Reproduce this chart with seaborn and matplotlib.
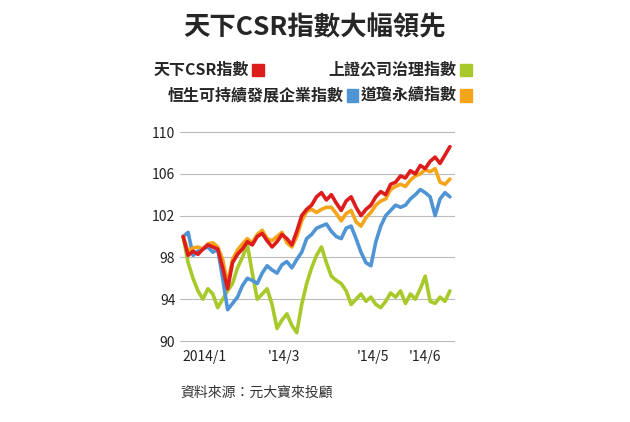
import matplotlib
matplotlib.use("Agg")
import matplotlib.pyplot as plt
import seaborn as sns
import pandas as pd

sns.set_style("white")
plt.rcParams['font.family'] = ['Noto Sans CJK TC', 'DejaVu Sans']

red = [100,98.2,98.6,98.3,98.8,99.2,99.0,98.8,97.0,95.0,97.5,98.3,98.8,99.5,99.2,100.0,100.3,99.6,99.0,99.5,100.2,99.8,99.2,100.5,102.0,102.6,103.0,103.8,104.2,103.5,104.0,103.2,102.5,103.4,103.8,102.8,102.0,102.6,103.0,103.8,104.3,104.0,105.0,105.2,105.8,105.6,106.3,106.0,106.8,106.5,107.2,107.6,107.0,107.8,108.6]
orange = [100,98.6,98.9,99.0,98.8,99.3,99.4,99.0,97.8,95.5,97.8,98.7,99.3,99.8,99.4,100.2,100.6,99.8,99.6,100.0,100.4,99.4,99.0,100.0,101.5,102.4,102.6,102.3,102.6,102.8,102.8,102.2,101.5,102.2,102.5,101.4,101.0,101.8,102.3,103.0,103.4,103.6,104.5,104.8,105.0,104.8,105.4,105.8,106.0,106.4,106.2,106.5,105.2,105.0,105.5]
blue = [100,100.4,98.2,98.6,98.8,99.0,98.5,98.8,96.0,93.0,93.6,94.2,95.3,96.0,95.8,95.5,96.5,97.2,96.8,96.5,97.3,97.6,97.0,97.8,98.5,99.8,100.2,100.8,101.0,101.2,100.5,100.0,99.8,100.8,101.0,99.8,98.5,97.5,97.2,99.5,101.0,102.0,102.5,103.0,102.8,103.0,103.6,104.0,104.5,104.2,103.8,102.0,103.6,104.2,103.8]
green = [100,97.5,96.0,94.8,94.0,95.0,94.5,93.2,94.0,94.8,95.5,97.0,98.0,99.2,96.5,94.0,94.5,95.0,93.5,91.2,92.0,92.6,91.5,90.8,93.5,95.5,97.0,98.2,99.0,97.5,96.2,95.8,95.5,94.8,93.5,94.0,94.5,93.8,94.2,93.5,93.2,93.8,94.6,94.2,94.8,93.6,94.5,94.0,95.0,96.2,93.8,93.6,94.2,93.8,94.8]
tick_pos = [4.4, 20.4, 38.4, 49]
tick_labels = ["2014/1", "'14/3", "'14/5", "'14/6"]
y_ticks = [90, 94, 98, 102, 106, 110]

names = ["上證公司治理指數", "恒生可持續發展企業指數", "道瓊永續指數", "天下CSR指數"]
colors = ["#a8c92a", "#4f95d6", "#f5a51a", "#dd1c1c"]
series = [green, blue, orange, red]

fig = plt.figure(figsize=(6.3, 4.22), dpi=100)
ax = fig.add_axes([0.286, 0.182, 0.436, 0.515])
for n, c, s in zip(names, colors, series):
    df = pd.DataFrame({"x": range(len(s)), "y": s})
    sns.lineplot(data=df, x="x", y="y", color=c, lw=2.6, ax=ax)
ax.set_xlim(-0.6, 55)
ax.set_ylim(89.6, 110.4)
ax.set_yticks(y_ticks)
ax.set_xticks(tick_pos)
ax.set_xticklabels(tick_labels)
ax.set_xlabel(""); ax.set_ylabel("")
ax.yaxis.grid(True, color="#bbbbbb", lw=0.8)
ax.set_axisbelow(True)
for sp in ax.spines.values():
    sp.set_visible(False)
ax.tick_params(length=0, labelsize=10, colors="#222222")

fig.text(0.5, 0.935, "天下CSR指數大幅領先", ha="center", va="center", fontsize=19, fontweight="bold")
def leg(x, y, txt, c):
    t = fig.text(x, y, txt, ha="right", va="center", fontsize=11.5, fontweight="bold")
    fig.patches.append(plt.Rectangle((x + 0.005, y - 0.016), 0.019, 0.03, transform=fig.transFigure, color=c))
leg(0.395, 0.835, "天下CSR指數", colors[3])
leg(0.725, 0.835, "上證公司治理指數", colors[0])
leg(0.545, 0.775, "恒生可持續發展企業指數", colors[1])
leg(0.725, 0.775, "道瓊永續指數", colors[2])
fig.text(0.286, 0.07, "資料來源：元大寶來投顧", ha="left", va="center", fontsize=10, color="#333333")
fig.savefig("out.png", dpi=100)
